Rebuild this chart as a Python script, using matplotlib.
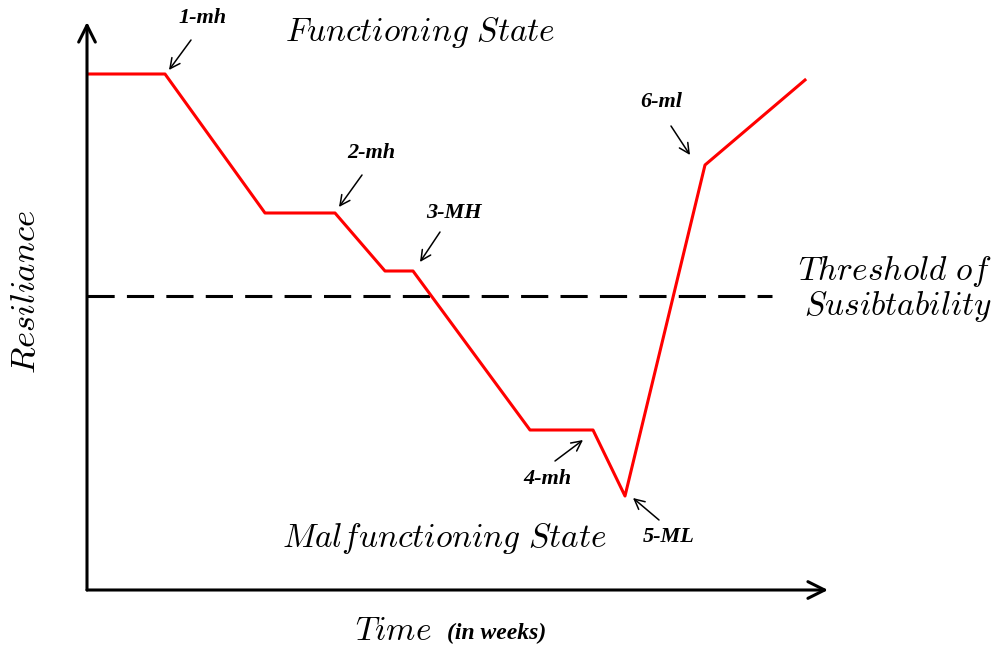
import matplotlib.pyplot as plt

# resilience curve (time in weeks, resilience in arbitrary units)
time = [0, 3.9, 8.9, 12.4, 14.9, 16.3, 22.15, 25.3, 26.9, 30.9, 35.9]
resilience = [25.8, 25.8, 18.85, 18.85, 15.95, 15.95, 8.0, 8.0, 4.7, 21.25, 25.5]
threshold = 14.7
threshold_end = 34.25

# event labels: text, text position, arrow tail, arrow head
events = ["1-mh", "2-mh", "3-MH", "4-mh", "5-ML", "6-ml"]
label_xy = [(5.8, 28.6), (14.2, 21.85), (18.35, 18.85), (23.0, 5.55), (29.1, 2.65), (28.7, 24.4)]
arrow_tail = [(5.2, 27.5), (13.75, 20.75), (17.65, 17.9), (23.4, 6.45), (28.6, 3.5), (29.2, 23.2)]
arrow_head = [(4.1, 26.0), (12.6, 19.15), (16.65, 16.4), (24.8, 7.5), (27.3, 4.6), (30.15, 21.75)]

plt.rcParams['mathtext.fontset'] = 'cm'

fig = plt.figure(figsize=(9.98, 6.46), dpi=100)
ax = fig.add_axes([87 / 998, 56 / 646, 750 / 998, 578 / 646])
ax.set_xlim(0, 37.5)
ax.set_ylim(0, 28.9)
ax.axis('off')

# axes with open arrow heads
ax.annotate('', xy=(0, 28.4), xytext=(0, 0),
            arrowprops=dict(arrowstyle='->', lw=2.2, color='black',
                            shrinkA=0, shrinkB=0, mutation_scale=30))
ax.annotate('', xy=(37.05, 0), xytext=(0, 0),
            arrowprops=dict(arrowstyle='->', lw=2.2, color='black',
                            shrinkA=0, shrinkB=0, mutation_scale=30))

ax.plot([0, threshold_end], [threshold, threshold], color='black', lw=2.2,
        linestyle=(0, (8.9, 4)))
ax.plot(time, resilience, color='red', lw=2.2)

for name, txy, tail, head in zip(events, label_xy, arrow_tail, arrow_head):
    ax.annotate('', xy=head, xytext=tail,
                arrowprops=dict(arrowstyle='->', lw=1.1, color='black',
                                shrinkA=0, shrinkB=0, mutation_scale=18))
    ax.text(txy[0], txy[1], name, ha='center', va='center', fontsize=16,
            family='Liberation Serif', style='italic', weight='bold')

ax.text(16.65, 27.85, r'$\mathit{Functioning\ State}$', ha='center', va='center', fontsize=24)
ax.text(17.85, 2.6, r'$\mathit{Malfunctioning\ State}$', ha='center', va='center', fontsize=24)
ax.text(45.25, 15.95, r'$\mathit{Threshold\ of}$', ha='right', va='center', fontsize=24)
ax.text(45.25, 14.2, r'$\mathit{Susibtability}$', ha='right', va='center', fontsize=24)

fig.text(25 / 998, 1 - 292 / 646, r'$\mathit{Resiliance}$', rotation=90,
         ha='center', va='center', fontsize=25)
fig.text(393 / 998, 1 - 630 / 646, r'$\mathit{Time}$', ha='center', va='center', fontsize=24)
fig.text(497 / 998, 1 - 633 / 646, '(in weeks)', ha='center', va='center', fontsize=17,
         family='Liberation Serif', style='italic', weight='bold')

fig.savefig('out.png', dpi=100)
